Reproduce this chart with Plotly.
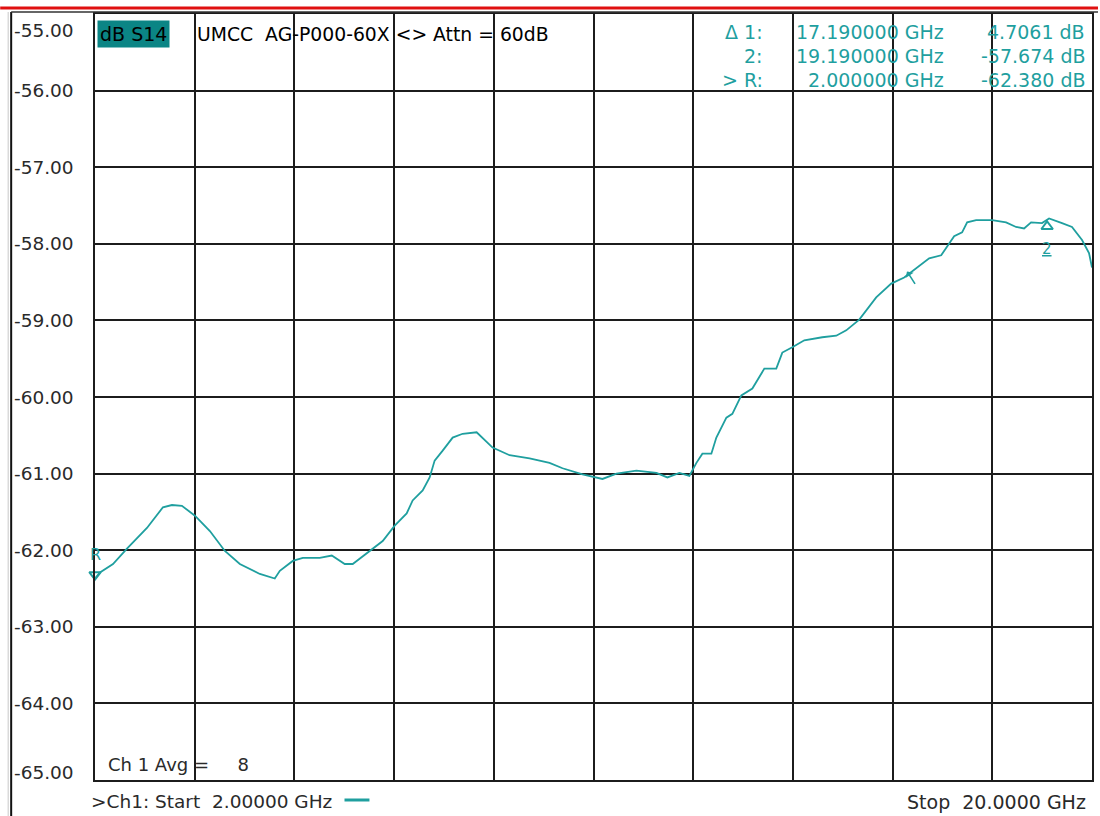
import plotly.graph_objects as go

# ---- data ----
freq_ghz = [2.000, 2.090, 2.325, 2.577, 2.938, 3.226, 3.389, 3.569, 3.804, 4.074,
            4.345, 4.615, 4.976, 5.246, 5.337, 5.571, 5.752, 6.058, 6.275, 6.509,
            6.653, 6.960, 7.194, 7.411, 7.627, 7.735, 7.916, 8.042, 8.132, 8.277,
            8.457, 8.637, 8.890, 9.178, 9.485, 9.846, 10.206, 10.441, 10.802, 11.162,
            11.415, 11.775, 12.136, 12.334, 12.551, 12.731, 12.858, 12.966, 13.128, 13.218,
            13.399, 13.507, 13.669, 13.868, 14.084, 14.300, 14.409, 14.589, 14.806, 15.130,
            15.383, 15.563, 15.798, 16.104, 16.375, 16.609, 16.826, 17.060, 17.277, 17.421,
            17.511, 17.655, 17.746, 17.908, 18.196, 18.449, 18.629, 18.774, 18.900, 19.098,
            19.225, 19.459, 19.639, 19.820, 19.946, 20.000]
s14_db = [-62.37, -62.29, -62.18, -61.98, -61.71, -61.44, -61.41, -61.42, -61.55, -61.75,
          -62.01, -62.18, -62.31, -62.37, -62.27, -62.14, -62.10, -62.10, -62.07, -62.18,
          -62.18, -62.01, -61.88, -61.68, -61.52, -61.35, -61.22, -61.05, -60.83, -60.70,
          -60.53, -60.48, -60.46, -60.66, -60.76, -60.80, -60.86, -60.93, -61.01, -61.07,
          -61.00, -60.96, -60.99, -61.05, -60.99, -61.03, -60.86, -60.74, -60.74, -60.53,
          -60.27, -60.22, -59.98, -59.89, -59.63, -59.63, -59.42, -59.35, -59.26, -59.22,
          -59.20, -59.13, -58.99, -58.70, -58.52, -58.44, -58.32, -58.19, -58.15, -57.99,
          -57.90, -57.85, -57.72, -57.69, -57.69, -57.72, -57.78, -57.80, -57.72, -57.73,
          -57.67, -57.73, -57.78, -57.95, -58.12, -58.31]

y_ticks = [-55, -56, -57, -58, -59, -60, -61, -62, -63, -64, -65]
y_tick_labels = ["-55.00", "-56.00", "-57.00", "-58.00", "-59.00", "-60.00",
                 "-61.00", "-62.00", "-63.00", "-64.00", "-65.00"]
x_start, x_stop = 2.0, 20.0
x_div = 1.8
ref_level = -60.0

marker_rows = [["\u0394 1:", "17.190000 GHz", "4.7061 dB"],
               ["2:", "19.190000 GHz", "-57.674 dB"],
               ["> R:", "2.000000 GHz", "-62.380 dB"]]
marker_R = (2.0, -62.38)
marker_1 = (19.19, -57.674)
marker_arrow = (16.66, -58.36)

TEAL = "#1f9f9f"
BOX_TEAL = "#0b8585"
GRID = "#1c1c1c"
TXT = "#2a2a2a"
FONT = "DejaVu Sans"

W, H = 1100, 816
L, R, T, B = 95, 6, 14, 36


def px(x):
    return (x - L) / (W - L - R)


def py(y):
    return (H - B - y) / (H - T - B)


fig = go.Figure()
fig.add_trace(go.Scatter(x=freq_ghz, y=s14_db, mode="lines",
                         line=dict(color=TEAL, width=1.8), showlegend=False,
                         hoverinfo="skip"))
# reference-level triangles
fig.add_trace(go.Scatter(x=[x_start - 0.11], y=[ref_level], mode="markers",
                         marker=dict(symbol="triangle-right", size=13, color=TEAL),
                         cliponaxis=False, showlegend=False, hoverinfo="skip"))
fig.add_trace(go.Scatter(x=[x_stop + 0.09], y=[ref_level], mode="markers",
                         marker=dict(symbol="triangle-left", size=13, color=TEAL),
                         cliponaxis=False, showlegend=False, hoverinfo="skip"))
# marker glyphs
fig.add_trace(go.Scatter(x=[marker_R[0]], y=[marker_R[1] + 0.06], mode="markers",
                         marker=dict(symbol="triangle-down-open", size=10, color=TEAL,
                                     line=dict(width=2, color=TEAL)),
                         cliponaxis=False, showlegend=False, hoverinfo="skip"))
fig.add_trace(go.Scatter(x=[marker_1[0]], y=[marker_1[1] - 0.1], mode="markers",
                         marker=dict(symbol="triangle-up-open", size=10, color=TEAL,
                                     line=dict(width=2, color=TEAL)),
                         cliponaxis=False, showlegend=False, hoverinfo="skip"))

ann = []
# y tick labels (left column)
for v, t in zip(y_ticks, y_tick_labels):
    shift = 0
    if v == y_ticks[0]:
        shift = -16
    elif v == y_ticks[-1]:
        shift = 8
    ann.append(dict(x=px(12), y=v, xref="paper", yref="y", text=t, showarrow=False,
                    xanchor="left", yanchor="middle", yshift=shift,
                    font=dict(family=FONT, size=18.5, color=TXT)))

# marker labels
ann.append(dict(x=marker_R[0], y=marker_R[1] + 0.32, xref="x", yref="y", text="R",
                showarrow=False, font=dict(family=FONT, size=16, color=TEAL)))
ann.append(dict(x=marker_1[0], y=marker_1[1] - 0.4, xref="x", yref="y", text="<u>2</u>",
                showarrow=False, font=dict(family=FONT, size=15, color=TEAL)))
ann.append(dict(x=marker_arrow[0], y=marker_arrow[1], xref="x", yref="y", text="",
                showarrow=True, ax=9, ay=14, arrowhead=1, arrowsize=1, arrowwidth=1.6,
                arrowcolor=TEAL))

# header
ann.append(dict(x=px(97), y=py(34), xref="paper", yref="paper", text="dB S14",
                showarrow=False, xanchor="left", yanchor="middle", bgcolor=BOX_TEAL,
                borderpad=2, font=dict(family=FONT, size=19, color="#000000")))
ann.append(dict(x=px(195), y=py(34), xref="paper", yref="paper",
                text="UMCC&nbsp;&nbsp;AG-P000-60X &lt;&gt; Attn = 60dB",
                showarrow=False, xanchor="left", yanchor="middle",
                font=dict(family=FONT, size=18.8, color="#000000")))
row_y = [32, 56, 80]
for (c1, c2, c3), yy in zip(marker_rows, row_y):
    ann.append(dict(x=px(766), y=py(yy), xref="paper", yref="paper", text=c1,
                    showarrow=False, xanchor="right", yanchor="middle",
                    font=dict(family=FONT, size=19, color=TEAL)))
    ann.append(dict(x=px(948), y=py(yy), xref="paper", yref="paper", text=c2,
                    showarrow=False, xanchor="right", yanchor="middle",
                    font=dict(family=FONT, size=19, color=TEAL)))
    ann.append(dict(x=px(1089), y=py(yy), xref="paper", yref="paper", text=c3,
                    showarrow=False, xanchor="right", yanchor="middle",
                    font=dict(family=FONT, size=19, color=TEAL)))

# footer
ann.append(dict(x=px(106), y=py(764), xref="paper", yref="paper",
                text="Ch 1 Avg =     8".replace(" ", "&nbsp;"),
                showarrow=False, xanchor="left", yanchor="middle",
                font=dict(family=FONT, size=18, color=TXT)))
ann.append(dict(x=px(89), y=py(801), xref="paper", yref="paper",
                text="&gt;Ch1: Start&nbsp;&nbsp;2.00000 GHz",
                showarrow=False, xanchor="left", yanchor="middle",
                font=dict(family=FONT, size=18.5, color=TXT)))
ann.append(dict(x=px(1090), y=py(802), xref="paper", yref="paper",
                text="Stop&nbsp;&nbsp;20.0000 GHz",
                showarrow=False, xanchor="right", yanchor="middle",
                font=dict(family=FONT, size=19, color=TXT)))

shapes = [
    # red top line
    dict(type="line", xref="paper", yref="paper", x0=px(0), x1=px(1100), y0=py(8), y1=py(8),
         line=dict(color="#e01010", width=3)),
    # outer left frame line
    dict(type="line", xref="paper", yref="paper", x0=px(11), x1=px(11), y0=py(12), y1=py(816),
         line=dict(color="#111111", width=2)),
    dict(type="line", xref="paper", yref="paper", x0=px(8), x1=px(8), y0=py(12), y1=py(816),
         line=dict(color="#c8c8c8", width=1)),
    dict(type="line", xref="paper", yref="paper", x0=px(11), x1=px(1100), y0=py(12), y1=py(12),
         line=dict(color="#333333", width=1.5)),
    # teal trace sample in footer
    dict(type="line", xref="paper", yref="paper", x0=px(345), x1=px(370), y0=py(800), y1=py(800),
         line=dict(color=TEAL, width=3)),
]

fig.update_layout(
    width=W, height=H,
    margin=dict(l=L, r=R, t=T, b=B, pad=0),
    paper_bgcolor="white", plot_bgcolor="white",
    xaxis=dict(range=[x_start, x_stop], tick0=x_start, dtick=x_div,
               showgrid=True, gridcolor=GRID, gridwidth=2,
               showticklabels=False, ticks="", zeroline=False,
               showline=True, linecolor=GRID, linewidth=2, mirror=True, fixedrange=True),
    yaxis=dict(range=[y_ticks[-1], y_ticks[0]], tick0=-65, dtick=1,
               showgrid=True, gridcolor=GRID, gridwidth=2,
               showticklabels=False, ticks="", zeroline=False,
               showline=True, linecolor=GRID, linewidth=2, mirror=True, fixedrange=True),
    annotations=ann, shapes=shapes, showlegend=False,
)

fig.write_html("out.html", config={"displayModeBar": False},
               post_script="document.body.style.margin='0';document.body.style.overflow='hidden';")
